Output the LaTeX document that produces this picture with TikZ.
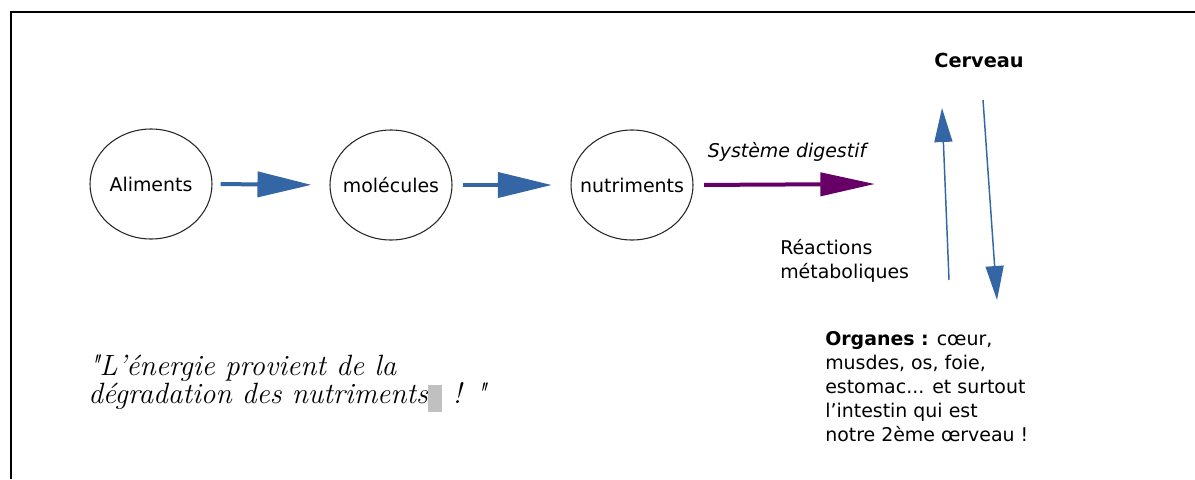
\documentclass[tikz,border=0pt]{standalone}
\usepackage{fontspec}
\setsansfont{DejaVu Sans}
\usetikzlibrary{arrows.meta,shapes.geometric}
\definecolor{arrblue}{RGB}{52,101,164}
\definecolor{arrpurple}{RGB}{102,0,102}
\definecolor{boxgray}{RGB}{192,192,192}
\begin{document}
\begin{tikzpicture}[x=0.75pt,y=-0.75pt,
  circ/.style={draw=black!85, line width=0.8pt, ellipse, minimum width=91.5pt, minimum height=82.5pt, inner sep=0pt},
  txt/.style={font=\sffamily\fontsize{14.2}{18}\selectfont, inner sep=0pt},
  bluearrow/.style={draw=arrblue, line width=3pt, -{Triangle[length=40.5pt,width=18.75pt]}},
  purplearrow/.style={draw=arrpurple, line width=3pt, -{Triangle[length=41pt,width=17.25pt]}},
  thinarrow/.style={draw=arrblue, line width=1.1pt, -{Triangle[length=25.5pt,width=13.5pt]}},
  quotetxt/.style={font=\rmfamily\itshape\fontsize{22}{21}\selectfont, inner sep=0pt, align=left}]
\useasboundingbox (0,0) rectangle (1195,479);
\draw[line width=2pt] (11,479) -- (11,12) -- (1195,12);

\node[circ, label={[txt]center:Aliments}] (a1) at (151,184) {};
\node[circ, label={[txt]center:molécules}] (a2) at (391,185) {};
\node[circ, label={[txt]center:nutriments}] (a3) at (632,185) {};

\draw[bluearrow, shorten <=6pt, shorten >=13.5pt] (a1.east) -- (a2.west);
\draw[bluearrow, shorten <=7.5pt, shorten >=14pt] (a2.east) -- (a3.west);

\coordinate (pend) at (875,184);
\draw[purplearrow, shorten <=8pt] (a3.east) -- (pend);
\node[txt, font=\sffamily\itshape\fontsize{14.2}{18}\selectfont] (sd) at (787,152) {Système digestif};

\node[txt, font=\sffamily\bfseries\fontsize{14.5}{18}\selectfont] (cerveau) at (979,60) {Cerveau};
\coordinate (upfrom) at (949,280);
\coordinate (upto) at (942,108);
\coordinate (downfrom) at (983,100);
\coordinate (downto) at (997,300);
\draw[thinarrow] (upfrom) -- (upto);
\draw[thinarrow] (downfrom) -- (downto);

\node[txt, align=left, anchor=west] (reac) at (780,261) {Réactions\\métaboliques};

\node[txt, align=left, anchor=north west] (org) at (825,331) {\textbf{Organes :} cœur,\\musdes, os, foie,\\estomac... et surtout\\l’intestin qui est\\notre 2ème œrveau !};

\node[quotetxt, anchor=north west] (quote) at (88,355) {\textquotedbl L’énergie provient de la\\dégradation des nutriments{\color{boxgray}\rule[-6pt]{11pt}{20pt}} ! \textquotedbl};
\end{tikzpicture}
\end{document}
